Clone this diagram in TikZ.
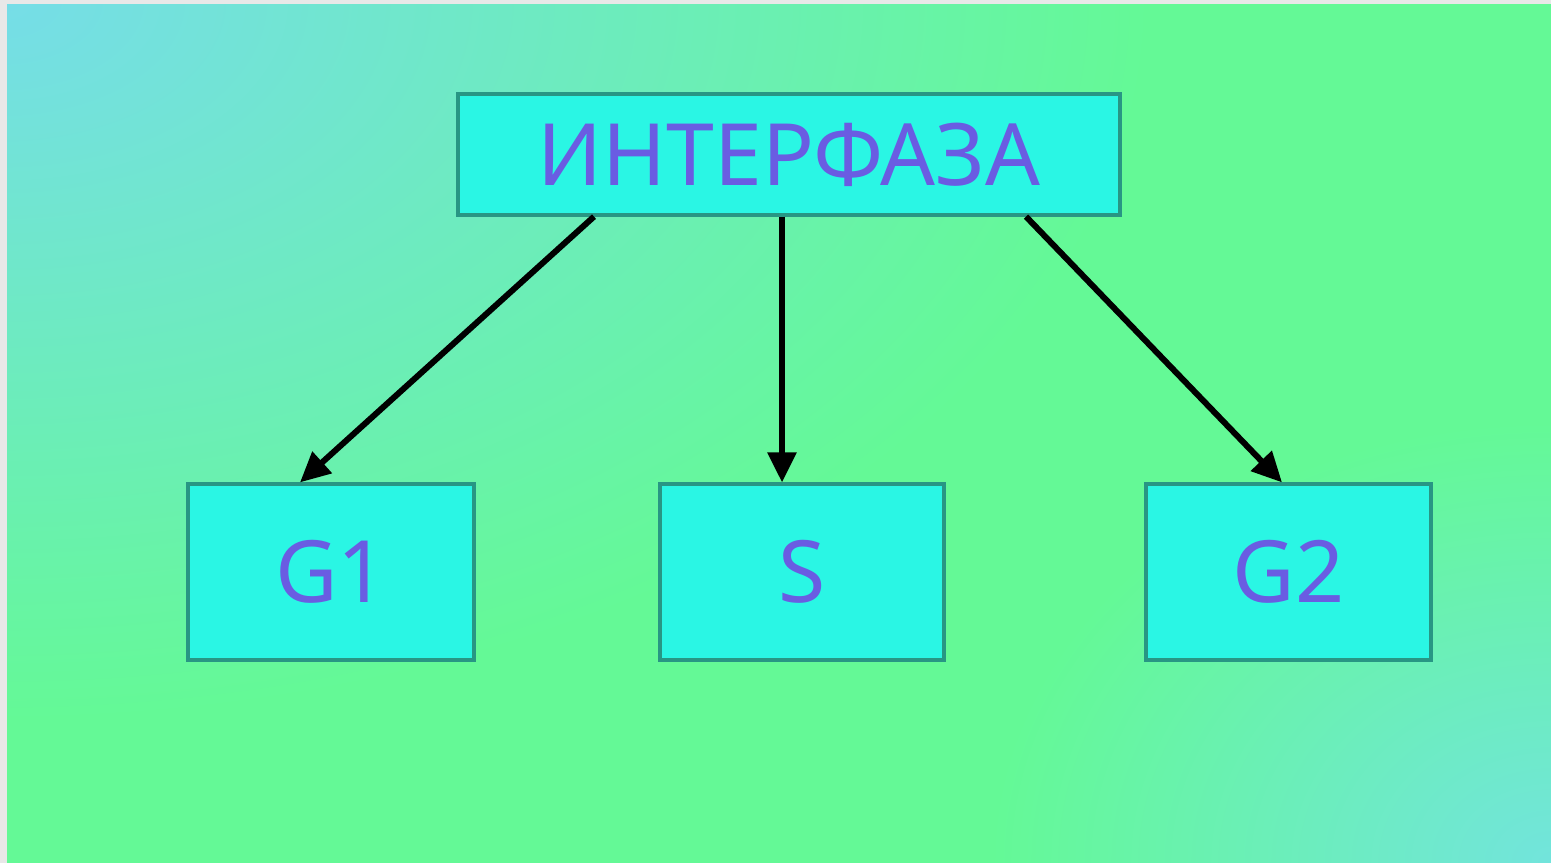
\documentclass[tikz,border=0pt]{standalone}
\usepackage{fontspec}
\setmainfont{Noto Sans}
\usetikzlibrary{arrows.meta}
\definecolor{bgA}{RGB}{118,221,232}
\definecolor{bgB}{RGB}{100,249,150}
\definecolor{bgC}{RGB}{114,228,220}
\definecolor{boxfill}{RGB}{42,246,228}
\definecolor{boxdraw}{RGB}{40,150,132}
\definecolor{txt}{RGB}{106,92,226}
\definecolor{edge}{RGB}{232,232,232}
\tikzset{
  phasebox/.style={draw=boxdraw, line width=1.6pt, fill=boxfill, text=txt,
    minimum width=143pt, minimum height=88pt, inner sep=0pt,
    font=\fontsize{43}{43}\selectfont},
  topbox/.style={phasebox, minimum width=331pt, minimum height=60.5pt},
  link/.style={line width=3pt, -{Triangle[length=15pt,width=14pt]}}
}
\begin{document}
\begin{tikzpicture}[x=0.5pt,y=-0.5pt]
\useasboundingbox (0,0) rectangle (1551,862);
\begin{scope}
  \clip (-20,-20) rectangle (1571,882);
  \fill[bgB] (-20,-20) rectangle (1571,882);
  \shade[inner color=bgA, outer color=bgB] (0,0) ellipse [x radius=1150, y radius=720];
  \shade[inner color=bgC, outer color=bgB] (1551,862) ellipse [x radius=560, y radius=440];
  \fill[edge] (-20,-20) rectangle (7,882);
  \fill[edge] (-20,-20) rectangle (1571,4);
\end{scope}
\node[topbox] (top) at (789,154.5) {ИНТЕРФАЗА};
\node[phasebox] (g1) at (331,572) {G1};
\node[phasebox, minimum width=142pt] (s) at (802,572) {S};
\node[phasebox, minimum width=142.5pt] (g2) at (1288.5,572) {G2};
\draw[link] ([xshift=-97.5pt]top.south) -- ([xshift=-15.5pt]g1.north);
\draw[link] ([xshift=-3.5pt]top.south) -- ([xshift=-10pt]s.north);
\draw[link] ([xshift=118.5pt]top.south) -- ([xshift=-3.25pt]g2.north);
\end{tikzpicture}
\end{document}
